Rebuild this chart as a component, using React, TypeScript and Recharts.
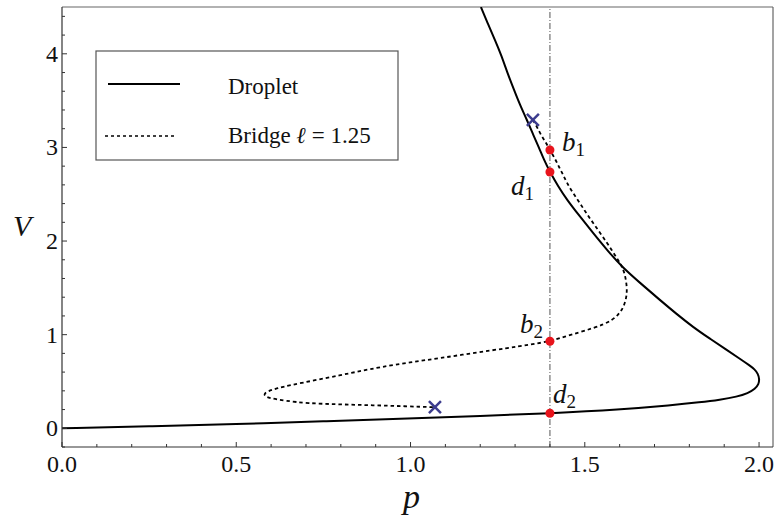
import React from 'react';
import {
  ComposedChart,
  Line,
  Scatter,
  XAxis,
  YAxis,
  ReferenceLine,
  Label,
  Customized,
} from 'recharts';

// Droplet branch: pressure p against volume V
const dropletP = [0, 0.25, 0.5, 0.749, 1.0, 1.2, 1.4, 1.601, 1.75, 1.831, 1.888, 1.937, 1.968, 1.989, 1.999, 2.001, 1.997, 1.987, 1.974, 1.945, 1.908, 1.859, 1.811, 1.762, 1.716, 1.661, 1.607, 1.564, 1.524, 1.486, 1.449, 1.423, 1.4, 1.383, 1.369, 1.351, 1.334, 1.314, 1.297, 1.277, 1.26, 1.242, 1.222, 1.202];
const dropletV = [0, 0.02, 0.043, 0.075, 0.107, 0.13, 0.16, 0.2, 0.246, 0.278, 0.305, 0.337, 0.374, 0.422, 0.471, 0.524, 0.583, 0.631, 0.668, 0.743, 0.834, 0.957, 1.08, 1.225, 1.369, 1.545, 1.722, 1.904, 2.086, 2.262, 2.439, 2.588, 2.738, 2.866, 2.995, 3.144, 3.294, 3.455, 3.615, 3.807, 3.989, 4.15, 4.321, 4.5];

// Bridge branch for l = 1.25, from one end point to the other
const bridgeP = [1.351, 1.363, 1.374, 1.389, 1.4, 1.415, 1.426, 1.438, 1.449, 1.466, 1.486, 1.504, 1.524, 1.544, 1.564, 1.578, 1.592, 1.601, 1.607, 1.614, 1.618, 1.621, 1.62, 1.615, 1.607, 1.595, 1.578, 1.555, 1.524, 1.486, 1.443, 1.4, 1.343, 1.277, 1.185, 1.085, 0.999, 0.912, 0.855, 0.798, 0.726, 0.654, 0.617, 0.591, 0.58, 0.582, 0.597, 0.64, 0.703, 0.798, 0.892, 0.984, 1.07];
const bridgeV = [3.294, 3.219, 3.134, 3.048, 2.973, 2.877, 2.791, 2.706, 2.62, 2.513, 2.406, 2.299, 2.193, 2.086, 1.979, 1.898, 1.818, 1.765, 1.722, 1.658, 1.583, 1.497, 1.412, 1.337, 1.267, 1.209, 1.155, 1.112, 1.07, 1.027, 0.979, 0.93, 0.893, 0.856, 0.807, 0.749, 0.706, 0.652, 0.61, 0.567, 0.513, 0.46, 0.428, 0.396, 0.369, 0.342, 0.321, 0.294, 0.267, 0.255, 0.246, 0.235, 0.225];

// End points of the bridge branch
const endP = [1.351, 1.07];
const endV = [3.294, 0.225];

// Marked states at the chosen pressure
const pressureCut = 1.4;
const markLetters = ['b', 'd', 'b', 'd'];
const markIndices = ['1', '1', '2', '2'];
const markV = [2.973, 2.738, 0.93, 0.16];

// Axis ticks
const xTicks = [0, 0.1, 0.2, 0.3, 0.4, 0.5, 0.6, 0.7, 0.8, 0.9, 1.0, 1.1, 1.2, 1.3, 1.4, 1.5, 1.6, 1.7, 1.8, 1.9, 2.0];
const yTicks = [-0.2, 0, 0.2, 0.4, 0.6, 0.8, 1, 1.2, 1.4, 1.6, 1.8, 2, 2.2, 2.4, 2.6, 2.8, 3, 3.2, 3.4, 3.6, 3.8, 4, 4.2, 4.4];
const xMajor = [0, 0.5, 1.0, 1.5, 2.0];
const yMajor = [0, 1, 2, 3, 4];

const X_MAX = 2.04;
const Y_MIN = -0.2;
const Y_MAX = 4.5;

const SERIF = '"Liberation Serif", "Times New Roman", serif';
const AXIS = '#333';
const FRAME = '#666';
const RED = '#e8141c';
const NAVY = '#3c3c8e';

const dropletData = dropletP.map((p, i) => ({ p, V: dropletV[i] }));
const bridgeData = bridgeP.map((p, i) => ({ p, V: bridgeV[i] }));
const endData = endP.map((p, i) => ({ p, V: endV[i] }));
const markData = markV.map((V, i) => ({
  p: pressureCut,
  V,
  letter: markLetters[i],
  index: markIndices[i],
}));

// label placement around each marked point
const markOffsets: Record<string, { dx: number; dy: number }> = {
  b1: { dx: 12, dy: 1 },
  d1: { dx: -39, dy: 23 },
  b2: { dx: -30, dy: -8 },
  d2: { dx: 3, dy: -10 },
};

const near = (list: number[], v: number) => list.some((m) => Math.abs(m - v) < 1e-6);

const XTick = (props: any) => {
  const { x, y, payload } = props;
  const v = payload.value as number;
  const major = near(xMajor, v);
  return (
    <g>
      <line x1={x} x2={x} y1={y} y2={y - (major ? 5 : 3)} stroke={AXIS} strokeWidth={1} />
      {major && (
        <text x={x} y={y + 25} textAnchor="middle" fontSize={24} fontFamily={SERIF} fill="#111">
          {v.toFixed(1)}
        </text>
      )}
    </g>
  );
};

const YTick = (props: any) => {
  const { x, y, payload } = props;
  const v = payload.value as number;
  const major = near(yMajor, v);
  return (
    <g>
      <line x1={x} x2={x + (major ? 5 : 3)} y1={y} y2={y} stroke={AXIS} strokeWidth={1} />
      {major && (
        <text x={x - 4} y={y + 8} textAnchor="end" fontSize={24} fontFamily={SERIF} fill="#111">
          {String(v)}
        </text>
      )}
    </g>
  );
};

const Cross = (props: any) => {
  const { cx, cy } = props;
  const h = 6;
  return (
    <g stroke={NAVY} strokeWidth={2.5} strokeLinecap="butt">
      <line x1={cx - h} y1={cy - h} x2={cx + h} y2={cy + h} />
      <line x1={cx - h} y1={cy + h} x2={cx + h} y2={cy - h} />
    </g>
  );
};

const MarkedPoint = (props: any) => {
  const { cx, cy, payload } = props;
  const key = `${payload.letter}${payload.index}`;
  const off = markOffsets[key] || { dx: 8, dy: 0 };
  return (
    <g>
      <circle cx={cx} cy={cy} r={4.5} fill={RED} />
      <text x={cx + off.dx} y={cy + off.dy} fontFamily={SERIF} fontSize={27} fontStyle="italic" fill="#111">
        {payload.letter}
        <tspan fontStyle="normal" fontSize={19} dy={5}>
          {payload.index}
        </tspan>
      </text>
    </g>
  );
};

const LegendBox = () => (
  <g>
    <rect x={96} y={51} width={302} height={109} fill="#fff" stroke="#555" strokeWidth={1.2} />
    <line x1={108} x2={180} y1={84} y2={84} stroke="#000" strokeWidth={2} />
    <text x={228} y={94} fontFamily={SERIF} fontSize={23} fill="#111">
      Droplet
    </text>
    <line x1={105} x2={177} y1={136} y2={136} stroke="#000" strokeWidth={1.6} strokeDasharray="3 3" />
    <text x={228} y={143} fontFamily={SERIF} fontSize={23} fill="#111">
      Bridge <tspan fontStyle="italic">ℓ</tspan> = 1.25
    </text>
  </g>
);

export default function App() {
  return (
    <div style={{ position: 'absolute', left: 0, top: 0, background: '#fff' }}>
      <ComposedChart width={777} height={520} margin={{ top: 7, right: 4, bottom: 0, left: 0 }}>
        <XAxis
          type="number"
          dataKey="p"
          domain={[0, X_MAX]}
          allowDataOverflow
          ticks={xTicks}
          interval={0}
          tick={<XTick />}
          tickLine={false}
          tickSize={0}
          tickMargin={0}
          height={73}
          axisLine={{ stroke: AXIS, strokeWidth: 1.2 }}
        >
          <Label
            value="p"
            position="insideBottom"
            offset={12}
            dx={-6}
            fontSize={34}
            fontStyle="italic"
            fontFamily={SERIF}
            fill="#111"
          />
        </XAxis>
        <YAxis
          type="number"
          dataKey="V"
          domain={[Y_MIN, Y_MAX]}
          allowDataOverflow
          ticks={yTicks}
          interval={0}
          tick={<YTick />}
          tickLine={false}
          tickSize={0}
          tickMargin={0}
          width={62}
          axisLine={{ stroke: AXIS, strokeWidth: 1.2 }}
        >
          <Label
            value="V"
            position="insideLeft"
            offset={13}
            dy={-2}
            fontSize={30}
            fontStyle="italic"
            fontFamily={SERIF}
            fill="#111"
          />
        </YAxis>

        <ReferenceLine y={Y_MAX} stroke={FRAME} strokeWidth={1.2} />
        <ReferenceLine x={X_MAX} stroke={FRAME} strokeWidth={1.2} />
        <ReferenceLine x={pressureCut} stroke="#555" strokeWidth={1} strokeDasharray="6 2 1 2" />

        <Line
          data={dropletData}
          dataKey="V"
          type="basis"
          stroke="#000"
          strokeWidth={2}
          dot={false}
          activeDot={false}
          isAnimationActive={false}
        />
        <Line
          data={bridgeData}
          dataKey="V"
          type="basis"
          stroke="#000"
          strokeWidth={1.8}
          strokeDasharray="3.5 3"
          dot={false}
          activeDot={false}
          isAnimationActive={false}
        />
        <Scatter data={endData} dataKey="V" shape={<Cross />} isAnimationActive={false} />
        <Scatter data={markData} dataKey="V" shape={<MarkedPoint />} isAnimationActive={false} />

        <Customized component={<LegendBox />} />
      </ComposedChart>
    </div>
  );
}
